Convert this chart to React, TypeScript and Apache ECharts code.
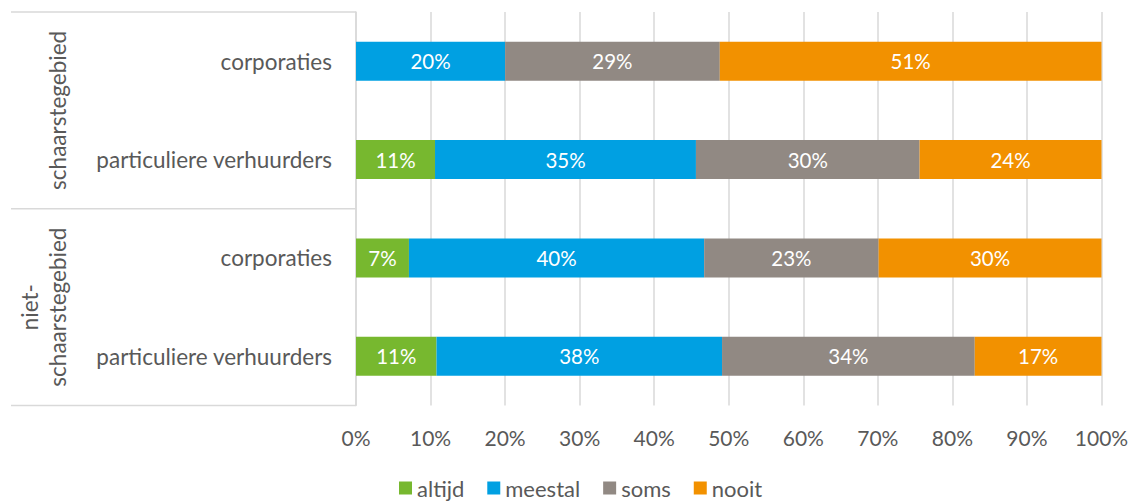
import React, { useEffect, useRef } from "react";
import * as echarts from "echarts";

// Data
const categories = ["corporaties", "particuliere verhuurders", "corporaties", "particuliere verhuurders"];
const groups = ["schaarstegebied", "niet-\nschaarstegebied"];
const seriesNames = ["altijd", "meestal", "soms", "nooit"];
const altijd = [0, 10.6, 7.1, 10.8];
const meestal = [20.0, 35.0, 39.6, 38.3];
const soms = [28.8, 30.0, 23.4, 33.9];
const nooit = [51.2, 24.4, 29.9, 17.0];
const xTicks = [0, 10, 20, 30, 40, 50, 60, 70, 80, 90, 100];

const colors = ["#77b82f", "#00a0e2", "#918983", "#f29100"];
const FONT = "Lato";
const GRAY = "#595959";
const LINE = "#d9d9d9";

export default function App() {
  const ref = useRef<HTMLDivElement>(null);
  useEffect(() => {
    if (!ref.current) return;
    const chart = echarts.init(ref.current, null, { renderer: "svg" });
    const values = [altijd, meestal, soms, nooit];
    const gridTop = 12;
    const gridBottomY = 405.5;
    const gridLeft = 356;
    const mid = (gridTop + gridBottomY) / 2;
    chart.setOption({
      animation: false,
      textStyle: { fontFamily: FONT },
      grid: {
        left: gridLeft,
        right: 33.5,
        top: gridTop,
        bottom: 501 - gridBottomY,
        containLabel: false,
        outerBoundsMode: "none",
      },
      legend: {
        data: seriesNames,
        left: 394,
        top: 472,
        padding: 5,
        icon: "rect",
        itemWidth: 13,
        itemHeight: 13,
        itemGap: 23,
        textStyle: { fontSize: 22, color: GRAY, fontFamily: FONT },
      },
      xAxis: {
        type: "value",
        min: xTicks[0],
        max: xTicks[xTicks.length - 1],
        interval: 10,
        axisLine: { show: false },
        axisTick: { show: false },
        axisLabel: { formatter: "{value}%", fontSize: 21, color: GRAY, margin: 21, fontFamily: FONT },
        splitLine: { lineStyle: { color: LINE, width: 1.5 } },
      },
      yAxis: {
        type: "category",
        data: categories,
        inverse: true,
        axisLine: { show: true, lineStyle: { color: LINE, width: 1.5 } },
        axisTick: { show: false },
        axisLabel: { fontSize: 22.5, color: GRAY, margin: 24, fontFamily: FONT },
      },
      series: values.map((v, i) => ({
        name: seriesNames[i],
        type: "bar",
        stack: "total",
        data: v,
        barWidth: 39,
        itemStyle: { color: colors[i] },
        label: {
          show: true,
          position: "inside",
          color: "#ffffff",
          fontSize: 20.5,
          fontFamily: FONT,
          formatter: (p: any) => (p.value > 0 ? Math.round(p.value) + "%" : ""),
        },
      })),
      graphic: [
        { type: "line", shape: { x1: 11, y1: gridTop, x2: gridLeft, y2: gridTop }, style: { stroke: LINE, lineWidth: 1.5 } },
        { type: "line", shape: { x1: 11, y1: mid, x2: gridLeft, y2: mid }, style: { stroke: LINE, lineWidth: 1.5 } },
        { type: "line", shape: { x1: 11, y1: gridBottomY, x2: gridLeft, y2: gridBottomY }, style: { stroke: LINE, lineWidth: 1.5 } },
        {
          type: "text",
          x: 57,
          y: (gridTop + mid) / 2,
          rotation: Math.PI / 2,
          style: { text: groups[0], align: "center", verticalAlign: "middle", fontSize: 22.5, fill: GRAY, fontFamily: FONT },
        },
        {
          type: "text",
          x: 43,
          y: (mid + gridBottomY) / 2,
          rotation: Math.PI / 2,
          style: { text: groups[1], align: "center", verticalAlign: "middle", fontSize: 22.5, lineHeight: 28, fill: GRAY, fontFamily: FONT },
        },
      ],
    });
    return () => chart.dispose();
  }, []);
  return <div ref={ref} style={{ position: "fixed", left: 0, top: 0, width: 1135, height: 501, background: "#fff" }} />;
}
